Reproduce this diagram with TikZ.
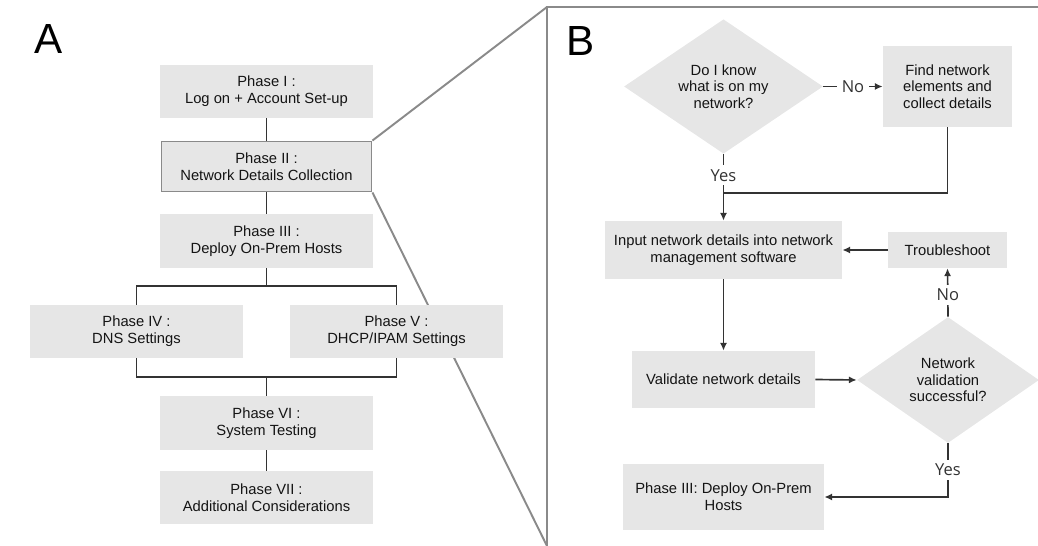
\documentclass[tikz,border=0pt]{standalone}
\usepackage{fontspec}
\setmainfont{Liberation Sans}
\newfontfamily\ynfont{Open Sans}
\usetikzlibrary{arrows.meta,shapes.geometric,backgrounds}
\definecolor{boxgray}{HTML}{E6E6E6}
\definecolor{linkgray}{HTML}{333333}
\definecolor{framegray}{HTML}{8A8A8A}
\definecolor{txtgray}{HTML}{141414}
\begin{document}
\begin{tikzpicture}[x=0.02cm,y=-0.02cm,
    phasebox/.style={rectangle,fill=boxgray,inner sep=0pt,align=center,text=txtgray,
        font=\fontsize{8.4}{9.5}\selectfont},
    decide/.style={diamond,fill=boxgray,inner sep=0pt,align=center,text=txtgray,
        font=\fontsize{8.4}{9.5}\selectfont},
    link/.style={draw=linkgray,line width=0.95pt},
    arrowlink/.style={link,-{Latex[length=4.4pt,width=4pt]}},
    zoomline/.style={draw=framegray,line width=1.1pt},
    yesno/.style={fill=white,text=linkgray,inner xsep=0.09cm,inner ysep=0.08cm,
        font=\ynfont\fontsize{9.4}{10}\selectfont},
    panel/.style={text=black,font=\fontsize{24}{24}\selectfont}]
    \useasboundingbox (0,0) rectangle (1038,546);
    % panel A
    \node[panel] (labA) at (49,39) {A};
    \node[phasebox,minimum width=4.26cm,minimum height=1.06cm] (ph1) at (266.5,91.5) {Phase I :\\Log on + Account Set-up};
    \node[phasebox,draw=framegray,line width=1.1pt,minimum width=4.2cm,minimum height=1.0cm] (ph2) at (266.5,166.5) {Phase II :\\Network Details Collection};
    \node[phasebox,minimum width=4.26cm,minimum height=1.08cm] (ph3) at (266.5,241) {Phase III :\\Deploy On-Prem Hosts};
    \node[phasebox,minimum width=4.26cm,minimum height=1.06cm] (ph4) at (136.5,331.5) {Phase IV :\\DNS Settings};
    \node[phasebox,minimum width=4.26cm,minimum height=1.06cm] (ph5) at (396.5,331.5) {Phase V :\\DHCP/IPAM Settings};
    \node[phasebox,minimum width=4.26cm,minimum height=1.08cm] (ph6) at (266.5,423) {Phase VI :\\System Testing};
    \node[phasebox,minimum width=4.26cm,minimum height=1.06cm] (ph7) at (266.5,497.5) {Phase VII :\\Additional Considerations};
    \coordinate (split) at (266.5,286);
    \coordinate (join) at (266.5,377);
    \draw[link] (ph1) -- (ph2);
    \draw[link] (ph2) -- (ph3);
    \draw[link] (ph3) -- (split);
    \draw[link] (ph4.north) |- (split) -| (ph5.north);
    \draw[link] (ph4.south) |- (join) -| (ph5.south);
    \draw[link] (join) -- (ph6);
    \draw[link] (ph6) -- (ph7);
    % zoom frame
    \coordinate (frametl) at (547,7);
    \coordinate (framebl) at (547,546);
    \coordinate (frametr) at (1038,7);
    \begin{scope}[on background layer]
    \draw[zoomline] (framebl) -- (frametl) -- (frametr);
    \draw[zoomline] (ph2.north east) -- (frametl);
    \draw[zoomline] (ph2.south east) -- (framebl);
    \end{scope}
    % panel B
    \node[panel] (labB) at (581,41) {B};
    \node[decide,minimum width=3.98cm,minimum height=2.54cm] (known) at (723.5,86.5) {Do I know\\what is on my\\network?};
    \node[phasebox,minimum width=2.58cm,minimum height=1.62cm] (find) at (947.5,86.5) {Find network\\elements and\\collect details};
    \node[phasebox,minimum width=4.74cm,minimum height=1.16cm] (input) at (723.5,250) {Input network details into network\\management software};
    \node[phasebox,minimum width=2.38cm,minimum height=0.72cm] (trouble) at (947.5,250) {Troubleshoot};
    \node[phasebox,minimum width=3.66cm,minimum height=1.14cm] (validate) at (723.5,379.5) {Validate network details};
    \node[decide,minimum width=3.64cm,minimum height=2.52cm] (valid) at (948,380) {Network\\validation\\successful?};
    \node[phasebox,minimum width=4.02cm,minimum height=1.32cm] (deploy) at (723.5,497) {Phase III: Deploy On-Prem\\Hosts};
    \coordinate (merge) at (723.5,193);
    \draw[arrowlink] (known.east) -- node[yesno] {No} (find.west);
    \draw[arrowlink] (known.south) -- node[yesno,pos=0.32] {Yes} (input.north);
    \draw[link] (find.south) |- (merge);
    \draw[arrowlink] (trouble.west) -- (input.east);
    \draw[arrowlink] (input.south) -- (validate.north);
    \draw[arrowlink] (validate.east) -- (valid.west);
    \draw[arrowlink] (valid.north) -- node[yesno,pos=0.45] {No} (trouble.south);
    \draw[arrowlink] (valid.south) |- node[yesno,pos=0.25] {Yes} (deploy.east);
\end{tikzpicture}
\end{document}
